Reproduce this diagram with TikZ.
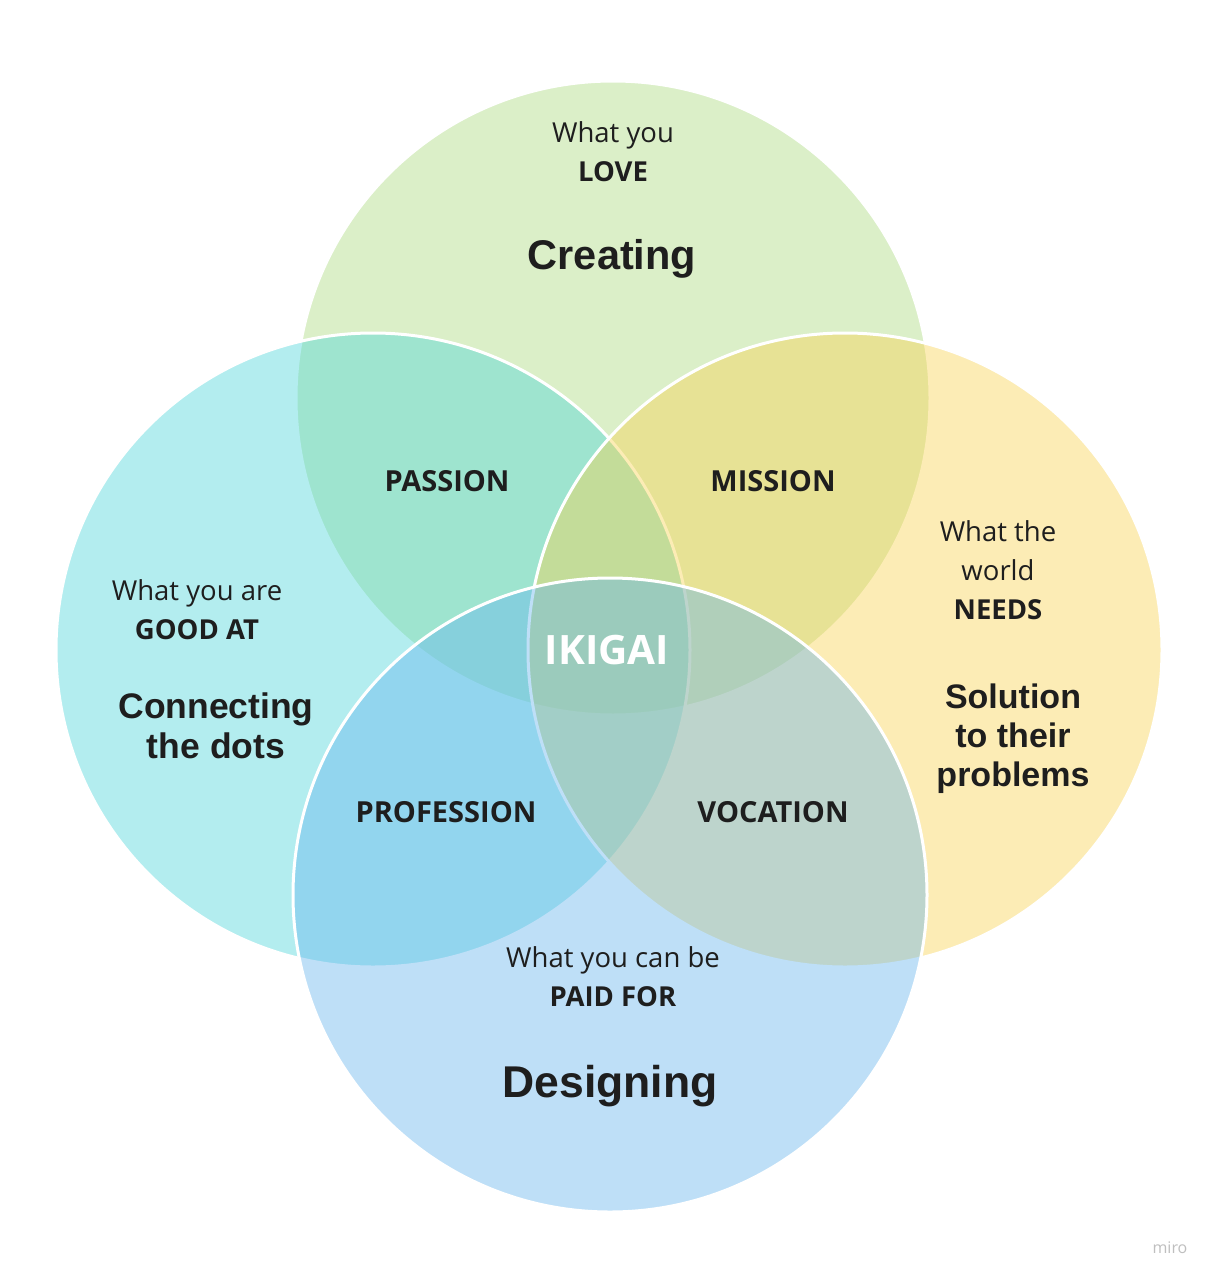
\documentclass[tikz,border=0pt]{standalone}
\usepackage{fontspec}
\setmainfont{Open Sans}
\newfontfamily\arialfont{Liberation Sans}
\usepackage{xcolor}
\definecolor{lovegreen}{RGB}{171,219,126}
\definecolor{goodcyan}{RGB}{76,214,219}
\definecolor{needsyellow}{RGB}{248,210,79}
\definecolor{paidblue}{RGB}{102,181,238}
\definecolor{ink}{RGB}{30,30,30}

\begin{document}
\begin{tikzpicture}[x=1pt,y=-1pt,
  ring/.style={circle,minimum size=634pt,inner sep=0pt,draw=white,line width=3pt,fill opacity=0.42},
  ask/.style={font=\fontsize{27.5}{39}\selectfont,text=ink,align=center},
  answer/.style={font=\arialfont\bfseries\fontsize{34}{39}\selectfont,text=ink,align=center},
  zone/.style={font=\bfseries\fontsize{29}{32}\selectfont,text=ink}]
  \useasboundingbox[fill=white](0,0) rectangle (1218,1282);
  % the four circles, bottom one last
  \node[ring,fill=lovegreen] (love) at (613,398) {};
  \node[ring,fill=goodcyan] (good) at (373,650) {};
  \node[ring,fill=needsyellow] (needs) at (845,650) {};
  \node[ring,fill=paidblue] (paid) at (610,895) {};
  % what each circle stands for
  \node[ask] (lovetext) at (613,152) {What you\\\textbf{LOVE}};
  \node[answer,font=\arialfont\bfseries\fontsize{41.5}{45}\selectfont] (loveans) at (612,259) {Creating};
  \node[ask] (goodtext) at (197,610) {What you are\\\textbf{GOOD AT}};
  \node[answer,font=\arialfont\bfseries\fontsize{35.5}{40}\selectfont] (goodans) at (216,726) {Connecting\\the dots};
  \node[ask] (needstext) at (998,570) {What the\\world\\\textbf{NEEDS}};
  \node[answer] (needsans) at (1013,739) {Solution\\to their\\problems};
  \node[ask] (paidtext) at (613,977) {What you can be\\\textbf{PAID FOR}};
  \node[answer,font=\arialfont\bfseries\fontsize{44.5}{48}\selectfont] (paidans) at (610,1086) {Designing};
  % overlaps
  \node[zone] (passion) at (447,481) {PASSION};
  \node[zone] (mission) at (773,481) {MISSION};
  \node[zone] (profession) at (446,812) {PROFESSION};
  \node[zone] (vocation) at (773,812) {VOCATION};
  \node[zone,text=white,font=\bfseries\fontsize{40.5}{44}\selectfont] (ikigai) at (607,650) {IKIGAI};
  \node[text=black!25,font=\fontsize{16}{18}\selectfont] (miro) at (1170,1248) {miro};
\end{tikzpicture}
\end{document}
